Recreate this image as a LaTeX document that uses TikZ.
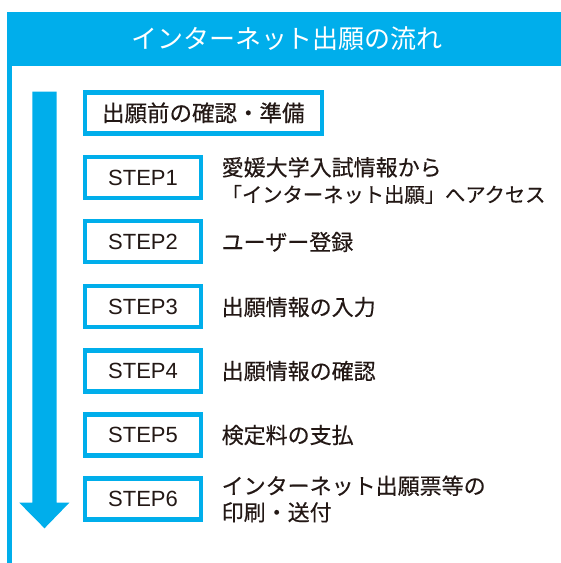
\documentclass[tikz,border=0pt]{standalone}
\usepackage{fontspec}
\setmainfont{Noto Sans CJK JP}
\newfontfamily\cjkmed[FakeBold=0.4]{Noto Sans CJK JP}
\newfontfamily\latinfont{Liberation Sans}
\definecolor{brandblue}{HTML}{00AEEB}
\definecolor{inkdark}{HTML}{231815}
\begin{document}
\begin{tikzpicture}[x=1pt,y=-1pt,
  stepbox/.style={draw=brandblue, line width=4.5pt, fill=white, minimum width=116pt, minimum height=41pt, inner sep=0pt, font=\latinfont\fontsize{22}{26}\selectfont, text=inkdark},
  prepbox/.style={draw=brandblue, line width=4.5pt, fill=white, minimum width=237pt, minimum height=41pt, inner sep=0pt, font=\cjkmed\fontsize{22.5}{26}\selectfont, text=inkdark},
  desc/.style={anchor=west, inner sep=0pt, align=left, font=\cjkmed\fontsize{22}{26.5}\selectfont, text=inkdark}]
\useasboundingbox (0,0) rectangle (561,563);
% frame
\fill[brandblue] (7,12.3) rectangle (561,65.7);
\fill[brandblue] (7,12.3) rectangle (12.3,563);
\node[text=white, font=\fontsize{26}{30}\selectfont, inner sep=0pt] (title) at (287,39) {インターネット出願の流れ};
% arrow
\fill[brandblue] (32.3,91.7) -- (56.7,91.7) -- (56.7,502.7) -- (69.3,502.7) -- (44.5,528.3) -- (19.3,502.7) -- (32.3,502.7) -- cycle;
% boxes
\node[prepbox] (prep) at (203.3,112.8) {出願前の確認・準備};
\node[stepbox] (s1) at (143,177.5) {STEP1};
\node[stepbox] (s2) at (143,241.7) {STEP2};
\node[stepbox] (s3) at (143,306.5) {STEP3};
\node[stepbox] (s4) at (143,370.8) {STEP4};
\node[stepbox] (s5) at (143,435) {STEP5};
\node[stepbox] (s6) at (143,499.2) {STEP6};
% descriptions
\node[desc] (d1) at (221.5,180.5) {愛媛大学入試情報から\\{\fontsize{20.3}{26.5}\selectfont「インターネット出願」へアクセス}};
\node[desc] (d2) at (221.5,242) {ユーザー登録};
\node[desc] (d3) at (221.5,307) {出願情報の入力};
\node[desc] (d4) at (221.5,371) {出願情報の確認};
\node[desc] (d5) at (221.5,435) {検定料の支払};
\node[desc] (d6) at (221.5,499) {インターネット出願票等の\\印刷・送付};
\end{tikzpicture}
\end{document}
